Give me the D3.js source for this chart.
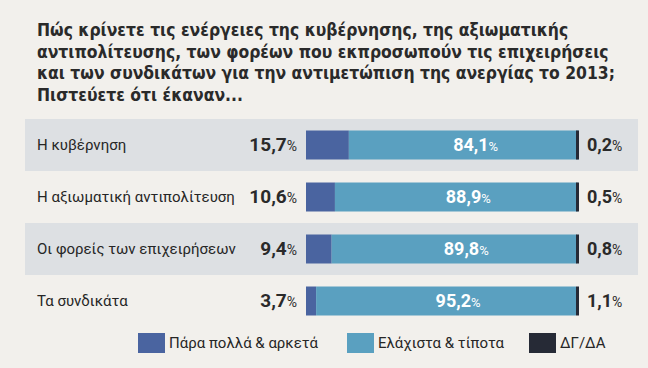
<!DOCTYPE html>
<html>
<head>
<meta charset="utf-8">
<script src="https://cdn.jsdelivr.net/npm/d3@7"></script>
<style>
  body { margin: 0; background: #f2f0ec; }
  svg { display: block; }
</style>
</head>
<body>
<div id="chart"></div>
<script>
let titleLines = [
    "Πώς κρίνετε τις ενέργειες της κυβέρνησης, της αξιωματικής",
    "αντιπολίτευσης, των φορέων που εκπροσωπούν τις επιχειρήσεις",
    "και των συνδικάτων για την αντιμετώπιση της ανεργίας το 2013;",
    "Πιστεύετε ότι έκαναν..."
];
let categories = ["Η κυβέρνηση", "Η αξιωματική αντιπολίτευση", "Οι φορείς των επιχειρήσεων", "Τα συνδικάτα"];
let much = [15.7, 10.6, 9.4, 3.7];
let little = [84.1, 88.9, 89.8, 95.2];
let dkna = [0.2, 0.5, 0.8, 1.1];
let seriesNames = ["Πάρα πολλά & αρκετά", "Ελάχιστα & τίποτα", "ΔΓ/ΔΑ"];
let colors = ["#4a64a0", "#5aa0c0", "#262a36"];

let width = 648, height = 368;
let font = "Roboto, 'Open Sans', sans-serif";

let svg = d3.select("#chart").append("svg")
    .attr("width", width)
    .attr("height", height);

svg.append("rect")
    .attr("width", width)
    .attr("height", height)
    .style("fill", "#f2f0ec");

// title, font size fitted so the widest line ends near x = 615
let title = svg.append("g").selectAll("text")
    .data(titleLines)
    .join("text")
    .attr("x", 37)
    .attr("y", (d, i) => 36 + i * 21.5)
    .style("font-family", "'Liberation Sans Narrow', 'DejaVu Sans Condensed', sans-serif")
    .style("font-weight", "bold")
    .style("font-size", "19px")
    .style("fill", "#2a2a2a")
    .text(d => d);
let widest = d3.max(title.nodes(), n => n.getComputedTextLength());
title.style("font-size", Math.min(19, 19 * 578 / widest) + "px");

let x = d3.scaleLinear()
    .domain([0, 100])
    .range([306, 579]);

let y = d3.scaleBand()
    .domain(categories)
    .range([122, 330]);

let barH = 29;
let fmt = d3.formatLocale({ decimal: ",", thousands: ".", grouping: [3], currency: ["", "€"] }).format(".1f");

let rows = svg.append("g").selectAll("g")
    .data(categories)
    .join("g")
    .attr("transform", d => "translate(0," + y(d) + ")");

// alternating grey bands
rows.filter((d, i) => i % 2 === 0)
    .append("rect")
    .attr("x", 25)
    .attr("width", 613)
    .attr("y", -3)
    .attr("height", y.bandwidth())
    .style("fill", "#dde0e3");

let mid = y.bandwidth() / 2 - 3;

rows.append("text")
    .attr("x", 37)
    .attr("y", mid + 5)
    .style("font-family", font)
    .style("font-size", "15px")
    .style("fill", "#262626")
    .text(d => d);

// bars
rows.append("rect")
    .attr("x", x(0))
    .attr("y", mid - barH / 2)
    .attr("height", barH)
    .attr("width", (d, i) => x(much[i]) - x(0))
    .style("fill", colors[0]);

rows.append("rect")
    .attr("x", (d, i) => x(much[i]))
    .attr("y", mid - barH / 2)
    .attr("height", barH)
    .attr("width", (d, i) => x(much[i] + little[i]) - x(much[i]))
    .style("fill", colors[1]);

rows.append("rect")
    .attr("x", (d, i) => x(100) - Math.max(3, x(100) - x(100 - dkna[i])))
    .attr("y", mid - barH / 2)
    .attr("height", barH)
    .attr("width", (d, i) => Math.max(3, x(100) - x(100 - dkna[i])))
    .style("fill", colors[2]);

function pctLabel(sel, numSize, pctSize) {
    sel.append("tspan")
        .style("font-weight", "bold")
        .style("font-size", numSize)
        .text(d => fmt(d.v));
    sel.append("tspan")
        .style("font-size", pctSize)
        .text("%");
}

// left values
rows.append("text")
    .datum((d, i) => ({ v: much[i] }))
    .attr("x", 297)
    .attr("y", mid + 6)
    .attr("text-anchor", "end")
    .style("font-family", font)
    .style("fill", "#2a2a2a")
    .call(pctLabel, "19px", "14px");

// inner values
rows.append("text")
    .datum((d, i) => ({ v: little[i], c: (x(much[i]) + x(much[i] + little[i])) / 2 + 12 }))
    .attr("x", d => d.c)
    .attr("y", mid + 6)
    .attr("text-anchor", "middle")
    .style("font-family", font)
    .style("fill", "#ffffff")
    .call(pctLabel, "18px", "13px");

// right values
rows.append("text")
    .datum((d, i) => ({ v: dkna[i] }))
    .attr("x", 587)
    .attr("y", mid + 6)
    .style("font-family", font)
    .style("fill", "#2a2a2a")
    .call(pctLabel, "18px", "14px");

// legend
let legendX = [138, 347, 529];
let legend = svg.append("g").selectAll("g")
    .data(seriesNames)
    .join("g")
    .attr("transform", (d, i) => "translate(" + legendX[i] + ",333)");

legend.append("rect")
    .attr("width", 27)
    .attr("height", 20)
    .style("fill", (d, i) => colors[i]);

legend.append("text")
    .attr("x", 31)
    .attr("y", 15)
    .style("font-family", font)
    .style("font-size", "15px")
    .style("fill", "#262626")
    .text(d => d);
</script>
</body>
</html>
